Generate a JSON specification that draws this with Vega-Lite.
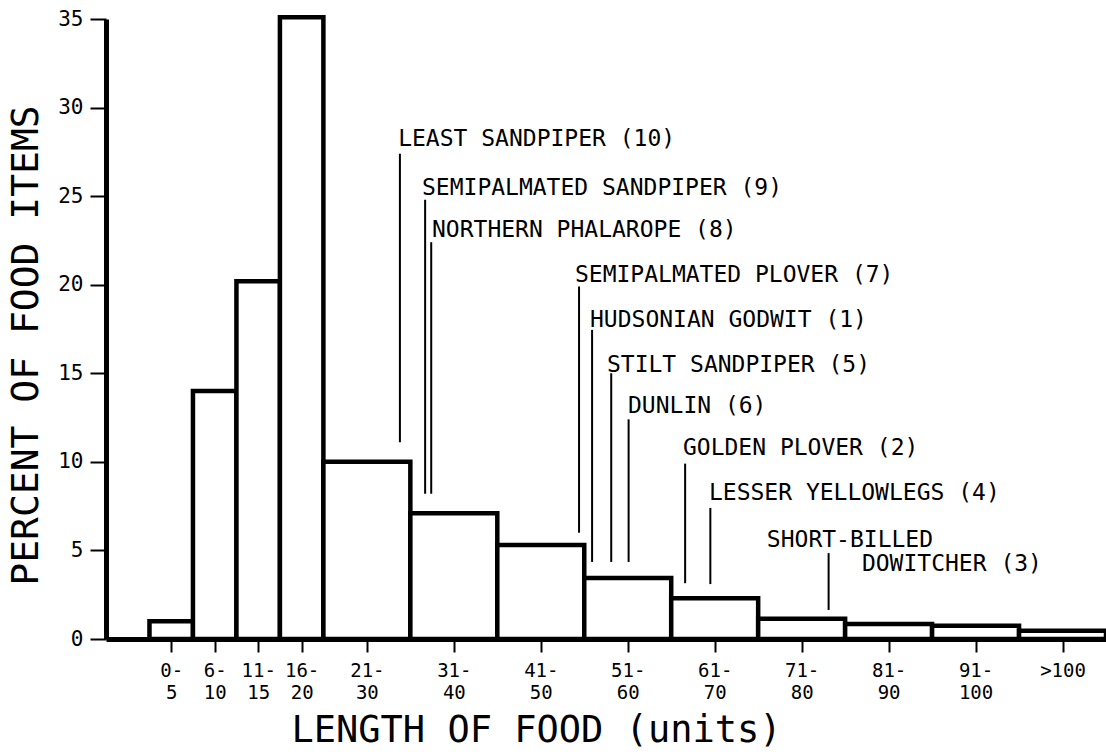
{
  "$schema": "https://vega.github.io/schema/vega-lite/v6.json",
  "width": 1000,
  "height": 620,
  "autosize": {"type": "none"},
  "padding": {"left": 106, "top": 19, "right": 0, "bottom": 115},
  "background": "white",
  "config": {"view": {"stroke": null}, "font": "DejaVu Sans Mono"},
  "datasets": {
    "bins": [
      {"bin": "0-5", "start": 0, "end": 5, "percent": 1.0},
      {"bin": "6-10", "start": 5, "end": 10, "percent": 14.0},
      {"bin": "11-15", "start": 10, "end": 15, "percent": 20.2},
      {"bin": "16-20", "start": 15, "end": 20, "percent": 35.1},
      {"bin": "21-30", "start": 20, "end": 30, "percent": 10.0},
      {"bin": "31-40", "start": 30, "end": 40, "percent": 7.1},
      {"bin": "41-50", "start": 40, "end": 50, "percent": 5.3},
      {"bin": "51-60", "start": 50, "end": 60, "percent": 3.45},
      {"bin": "61-70", "start": 60, "end": 70, "percent": 2.3},
      {"bin": "71-80", "start": 70, "end": 80, "percent": 1.15},
      {"bin": "81-90", "start": 80, "end": 90, "percent": 0.85},
      {"bin": "91-100", "start": 90, "end": 100, "percent": 0.75},
      {"bin": ">100", "start": 100, "end": 110, "percent": 0.47}
    ],
    "pointers": [
      {"species": "Least Sandpiper", "length": 28.8, "top": 27.4, "bottom": 11.1},
      {"species": "Semipalmated Sandpiper", "length": 31.7, "top": 24.8, "bottom": 8.2},
      {"species": "Northern Phalarope", "length": 32.4, "top": 22.4, "bottom": 8.2},
      {"species": "Semipalmated Plover", "length": 49.4, "top": 19.9, "bottom": 6.0},
      {"species": "Hudsonian Godwit", "length": 50.9, "top": 17.45, "bottom": 4.35},
      {"species": "Stilt Sandpiper", "length": 53.1, "top": 15.0, "bottom": 4.35},
      {"species": "Dunlin", "length": 55.1, "top": 12.4, "bottom": 4.35},
      {"species": "Golden Plover", "length": 61.6, "top": 9.9, "bottom": 3.15},
      {"species": "Lesser Yellowlegs", "length": 64.5, "top": 7.4, "bottom": 3.1},
      {"species": "Short-billed Dowitcher", "length": 78.1, "top": 4.85, "bottom": 1.64}
    ],
    "labels": [
      {"label": "LEAST SANDPIPER (10)", "lx": 28.6, "ly": 27.84},
      {"label": "SEMIPALMATED SANDPIPER (9)", "lx": 31.34, "ly": 25.07},
      {"label": "NORTHERN PHALAROPE (8)", "lx": 32.49, "ly": 22.7},
      {"label": "SEMIPALMATED PLOVER (7)", "lx": 48.93, "ly": 20.16},
      {"label": "HUDSONIAN GODWIT (1)", "lx": 50.66, "ly": 17.62},
      {"label": "STILT SANDPIPER (5)", "lx": 52.61, "ly": 15.08},
      {"label": "DUNLIN (6)", "lx": 55.03, "ly": 12.76},
      {"label": "GOLDEN PLOVER (2)", "lx": 61.35, "ly": 10.39},
      {"label": "LESSER YELLOWLEGS (4)", "lx": 64.34, "ly": 7.85},
      {"label": "SHORT-BILLED", "lx": 71.0, "ly": 5.19},
      {"label": "DOWITCHER (3)", "lx": 81.93, "ly": 3.84}
    ]
  },
  "layer": [
    {
      "data": {"name": "bins"},
      "mark": {"type": "bar", "fill": "white", "stroke": "black", "strokeWidth": 4.5, "strokeJoin": "miter"},
      "encoding": {
        "x": {
          "field": "start",
          "type": "quantitative",
          "scale": {"domain": [-5, 110], "nice": false, "zero": false},
          "axis": {
            "values": [2.5, 7.5, 12.5, 17.5, 25, 35, 45, 55, 65, 75, 85, 95, 105],
            "labelExpr": "datum.value == 2.5 ? ['0-','5'] : datum.value == 7.5 ? ['6-','10'] : datum.value == 12.5 ? ['11-','15'] : datum.value == 17.5 ? ['16-','20'] : datum.value == 25 ? ['21-','30'] : datum.value == 35 ? ['31-','40'] : datum.value == 45 ? ['41-','50'] : datum.value == 55 ? ['51-','60'] : datum.value == 65 ? ['61-','70'] : datum.value == 75 ? ['71-','80'] : datum.value == 85 ? ['81-','90'] : datum.value == 95 ? ['91-','100'] : ['>100']",
            "title": "LENGTH OF FOOD (units)",
            "grid": false,
            "domainWidth": 5,
            "domainColor": "black",
            "tickColor": "black",
            "tickWidth": 2,
            "tickSize": 13,
            "labelFont": "DejaVu Sans Mono",
            "labelFontSize": 19,
            "labelColor": "black",
            "labelPadding": 9,
            "labelLineHeight": 22,
            "labelFlush": false,
            "labelOverlap": false,
            "titleFont": "DejaVu Sans Mono",
            "titleFontSize": 37,
            "titleFontWeight": "normal",
            "titleColor": "black",
            "titleX": 430,
            "titleY": 102,
            "titleAlign": "center",
            "titleBaseline": "alphabetic"
          }
        },
        "x2": {"field": "end"},
        "y": {
          "field": "percent",
          "type": "quantitative",
          "scale": {"domain": [0, 35], "nice": false},
          "axis": {
            "values": [0, 5, 10, 15, 20, 25, 30, 35],
            "title": "PERCENT OF FOOD ITEMS",
            "grid": false,
            "domainWidth": 5,
            "domainColor": "black",
            "tickColor": "black",
            "tickWidth": 2,
            "tickSize": 16,
            "labelFont": "DejaVu Sans Mono",
            "labelFontSize": 21,
            "labelColor": "black",
            "labelPadding": 7,
            "labelFlush": false,
            "titleFont": "DejaVu Sans Mono",
            "titleFontSize": 38,
            "titleFontWeight": "normal",
            "titleColor": "black",
            "titleAngle": 270,
            "titleX": -69,
            "titleY": 326,
            "titleAlign": "center",
            "titleBaseline": "alphabetic"
          }
        },
        "y2": {"datum": 0}
      }
    },
    {
      "data": {"name": "pointers"},
      "mark": {"type": "rule", "strokeWidth": 2, "color": "black"},
      "encoding": {
        "x": {"field": "length", "type": "quantitative"},
        "y": {"field": "top", "type": "quantitative"},
        "y2": {"field": "bottom"}
      }
    },
    {
      "data": {"name": "labels"},
      "mark": {"type": "text", "align": "left", "baseline": "alphabetic", "font": "DejaVu Sans Mono", "fontSize": 23, "color": "black"},
      "encoding": {
        "x": {"field": "lx", "type": "quantitative"},
        "y": {"field": "ly", "type": "quantitative"},
        "text": {"field": "label"}
      }
    }
  ]
}
